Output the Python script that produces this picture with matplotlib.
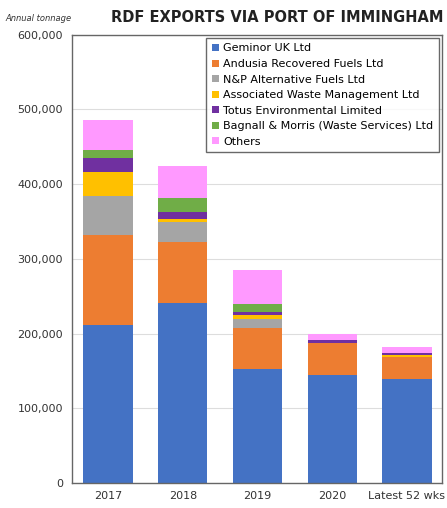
import numpy as np
import matplotlib.pyplot as plt
from matplotlib.ticker import FuncFormatter

# data (tonnes)
years = ["2017", "2018", "2019", "2020", "Latest 52 wks"]
companies = ["Geminor UK Ltd", "Andusia Recovered Fuels Ltd", "N&P Alternative Fuels Ltd",
             "Associated Waste Management Ltd", "Totus Environmental Limited",
             "Bagnall & Morris (Waste Services) Ltd", "Others"]
geminor = [211000, 241000, 153000, 145000, 139000]
andusia = [121000, 81000, 55000, 43000, 30000]
np_alt = [52000, 27000, 12000, 0, 0]
awm = [32000, 4000, 5500, 0, 2000]
totus = [19000, 10000, 4000, 4000, 3500]
bagnall = [10000, 18000, 10000, 0, 0]
others = [41000, 43000, 45000, 7000, 7000]
colors = ["#4472C4", "#ED7D31", "#A5A5A5", "#FFC000", "#7030A0", "#70AD47", "#FF99FF"]

series = [geminor, andusia, np_alt, awm, totus, bagnall, others]

fig = plt.figure(figsize=(4.47, 5.08), dpi=100)
ax = fig.add_axes([0.16, 0.049, 0.829, 0.883])

x = np.arange(len(years))
bottom = np.zeros(len(years))
for name, vals, col in zip(companies, series, colors):
    ax.bar(x, vals, 0.66, bottom=bottom, color=col, label=name, zorder=2)
    bottom += np.array(vals)

ax.set_ylim(0, 600000)
ax.set_xlim(-0.49, 4.47)
ax.set_yticks(range(0, 600001, 100000))
ax.yaxis.set_major_formatter(FuncFormatter(lambda v, p: f"{int(v):,}"))
ax.set_xticks(x)
ax.set_xticklabels(years)
ax.tick_params(axis="both", length=0, labelsize=8, colors="#333333", pad=6)
ax.grid(axis="y", color="#dddddd", linewidth=0.8, zorder=0)
for s in ax.spines.values():
    s.set_color("#666666")
    s.set_linewidth(1.0)

leg = ax.legend(loc="upper right", fontsize=8, frameon=True, fancybox=False,
                handlelength=0.6, handleheight=0.6, handletextpad=0.4,
                labelspacing=0.5, borderaxespad=0.3, borderpad=0.5)
leg.get_frame().set_edgecolor("#444444")
leg.get_frame().set_linewidth(1.0)

fig.text(0.62, 0.965, "RDF EXPORTS VIA PORT OF IMMINGHAM", ha="center", va="center",
         fontsize=10.5, fontweight="bold", color="#222222")
fig.text(0.012, 0.963, "Annual tonnage", ha="left", va="center", fontsize=6,
         style="italic", color="#333333")

fig.savefig("out.png", dpi=100)
